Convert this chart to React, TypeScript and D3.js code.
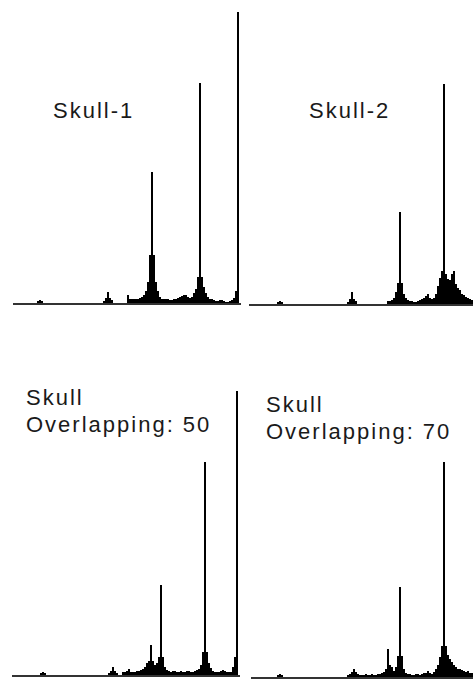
import React from "react";
import * as d3 from "d3";

// histogram counts, 114 bins per panel (in px of bar height)
const skull1 = [
  0, 0, 0, 0, 0, 0, 0, 0, 0, 0, 0, 0, 2, 3, 2,
  0, 0, 0, 0, 0, 0, 0, 0, 0, 0, 0, 0, 0, 0, 0, 0, 0, 0, 0, 0, 0, 0, 0, 0, 0, 0, 0, 0, 0, 0,
  2, 5, 11, 5, 3,
  0, 0, 0, 0, 0, 0, 0,
  8, 4, 4, 4, 4, 4, 5, 6, 8, 12,
  21, 48, 131, 48, 21, 12, 6,
  4, 4, 4, 4, 3, 3, 4,
  4, 5, 6, 7, 8, 8, 6, 5,
  6, 10, 14, 26, 220, 26, 16, 10, 6, 4, 4,
  3, 2, 2, 3, 3, 2, 1, 1, 2, 3, 5, 12, 291, 0,
];

const skull2 = [
  0, 0, 0, 0, 0, 0, 0, 0, 0, 0, 0, 0, 0, 0, 2, 3, 2,
  0, 0, 0, 0, 0, 0, 0, 0, 0, 0, 0, 0, 0, 0, 0, 0, 0, 0, 0, 0, 0, 0, 0, 0, 0, 0, 0, 0, 0, 0, 0, 0,
  2, 5, 12, 5, 3,
  0, 0, 0, 0, 0, 0, 0, 0, 0, 0, 0, 0, 0, 0, 0,
  3, 3, 4, 6, 12, 21, 92, 21, 10, 6, 4,
  3, 3, 2, 2, 3,
  4, 5, 6, 8, 10, 6, 5, 6, 10, 18, 26, 33, 220, 30, 25, 24, 30, 33, 20, 16, 14, 10, 9, 7, 6, 5, 4, 4, 4,
];

const overlap50 = [
  0, 0, 0, 0, 0, 0, 0, 0, 0, 0, 0, 0, 0, 0, 2, 3, 2,
  0, 0, 0, 0, 0, 0, 0, 0, 0, 0, 0, 0, 0, 0, 0, 0, 0, 0, 0, 0, 0, 0, 0, 0, 0, 0, 0, 0, 0, 0, 0,
  2, 4, 8, 4, 2,
  0, 0,
  3, 3, 4, 6, 3, 3, 3, 4, 4,
  5, 6, 8, 12, 14, 30, 14, 10, 12, 18, 90, 18, 8, 5,
  4, 3, 4, 4, 3, 3, 4, 3, 3, 4, 4, 3, 3, 4, 5, 6,
  10, 23, 213, 23, 12, 7, 4,
  3, 3, 3, 4, 5, 4, 3, 3, 3, 8,
  18, 284, 0,
];

const overlap70 = [
  0, 0, 0, 0, 0, 0, 0, 0, 0, 0, 0, 0, 0, 2, 3, 2,
  0, 0, 0, 0, 0, 0, 0, 0, 0, 0, 0, 0, 0, 0, 0, 0, 0, 0, 0, 0, 0, 0, 0, 0, 0, 0, 0, 0, 0, 0, 0, 0,
  2, 3, 5, 8, 5, 3, 2,
  2, 2, 3, 2, 2, 3, 2, 2, 3, 3, 4, 5,
  8, 28, 12, 10, 6, 10, 21, 90, 21, 8, 4,
  3, 3, 2, 2, 3, 3, 2, 3, 4,
  4, 6, 4, 3, 5, 8, 12, 20, 31, 215, 31, 22, 18, 15, 12, 10, 8, 8, 7, 6, 5, 6, 4, 4, 4, 4, 4,
];

const panelLabels = [["Skull-1"], ["Skull-2"], ["Skull", "Overlapping: 50"], ["Skull", "Overlapping: 70"]];

const BINS = 114;

interface PanelProps {
  counts: number[];
  x0: number;
  baseY: number;
  labels: string[];
  labelX: number;
  labelY: number;
}

function Panel({ counts, x0, baseY, labels, labelX, labelY }: PanelProps) {
  const x = d3.scaleLinear().domain([0, BINS]).range([x0, x0 + BINS * 2]);
  const y = d3.scaleLinear().domain([0, 291]).range([baseY, baseY - 291]);
  return (
    <g>
      {counts.map((c, i) =>
        c > 0 ? (
          <rect
            key={i}
            x={x(i)}
            y={y(c)}
            width={x(i + 1) - x(i)}
            height={baseY - y(c)}
            fill="#000"
            shapeRendering="crispEdges"
          />
        ) : null
      )}
      <line x1={x(0)} x2={x(BINS)} y1={baseY + 1} y2={baseY + 1} stroke="#333" strokeWidth={2} />
      {labels.map((t, i) => (
        <text
          key={i}
          x={labelX}
          y={labelY + i * 27}
          fontFamily="Liberation Sans, Arial, sans-serif"
          fontSize={22}
          letterSpacing={2}
          fill="#1a1a1a"
        >
          {t}
        </text>
      ))}
    </g>
  );
}

export default function App() {
  return (
    <svg
      width={473}
      height={684}
      style={{ position: "absolute", left: 0, top: 0, background: "#fff" }}
    >
      <Panel counts={skull1} x0={13} baseY={303} labels={panelLabels[0]} labelX={53} labelY={118} />
      <Panel counts={skull2} x0={249} baseY={304} labels={panelLabels[1]} labelX={309} labelY={118} />
      <Panel counts={overlap50} x0={12} baseY={675} labels={panelLabels[2]} labelX={26} labelY={405} />
      <Panel counts={overlap70} x0={251} baseY={677} labels={panelLabels[3]} labelX={266} labelY={412} />
    </svg>
  );
}
